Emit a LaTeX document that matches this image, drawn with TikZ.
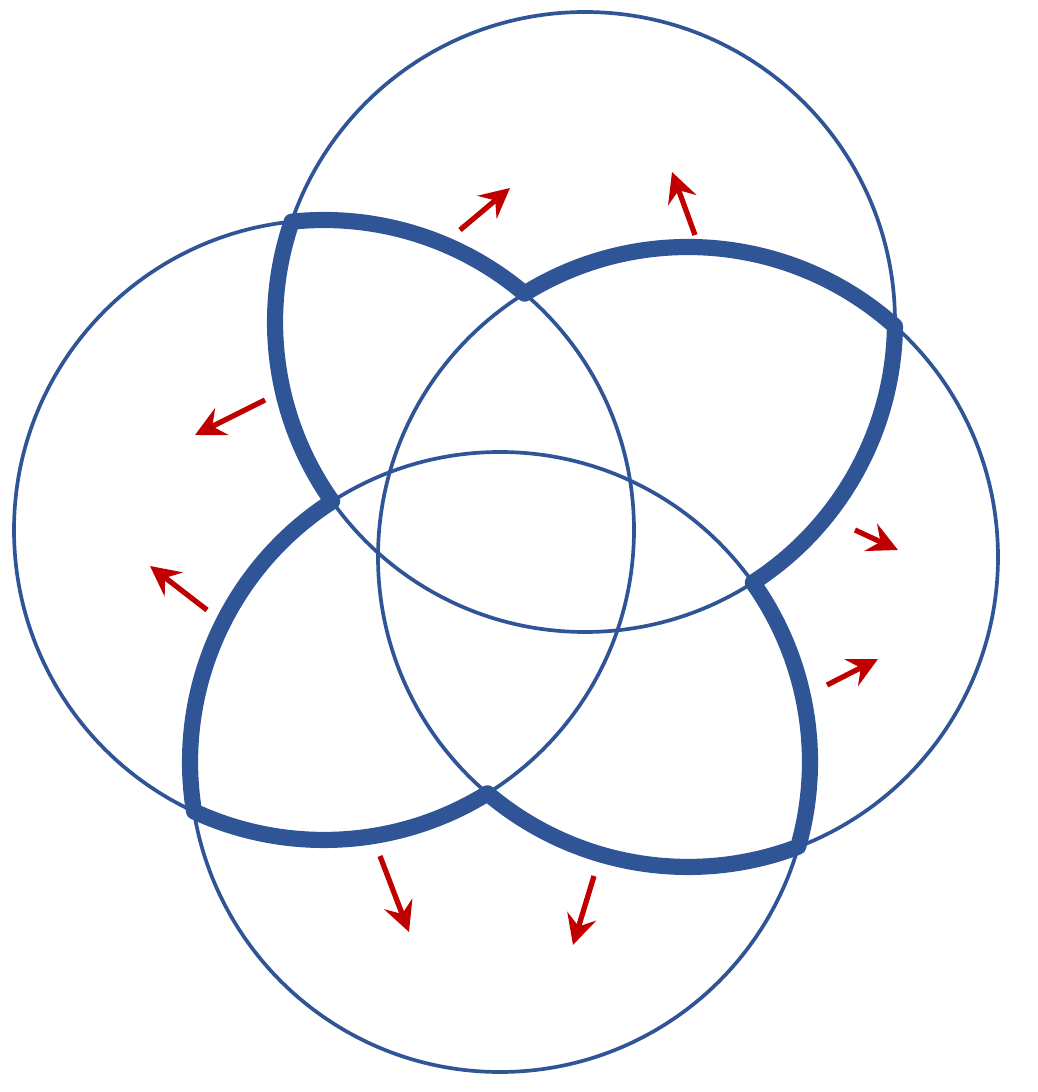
\documentclass[tikz,border=0pt]{standalone}
\usetikzlibrary{arrows.meta,calc}
\definecolor{cblue}{HTML}{2F5597}
\definecolor{cred}{HTML}{C00000}
\tikzset{
  thincircle/.style={draw=cblue, line width=1.05pt},
  thickline/.style={draw=cblue, line width=4.6pt, line join=round},
  outarrow/.style={draw=cred, line width=1.5pt, -{Stealth[length=8.5pt,width=8.5pt,inset=3pt]}}
}
\begin{document}
\begin{tikzpicture}[x=0.1mm,y=0.1mm]
\useasboundingbox (0,0) rectangle (1037,1092);
% circle centres
\coordinate (cT) at (585,770);
\coordinate (cL) at (324,562);
\coordinate (cR) at (688,535);
\coordinate (cB) at (500,330);
% thin circles
\draw[thincircle] (cT) circle[radius=310];
\draw[thincircle] (cL) circle[radius=310];
\draw[thincircle] (cR) circle[radius=310];
\draw[thincircle] (cB) circle[radius=310];
% thick boundary of the region covered by at least two circles
\draw[thickline] ($(cL)+(95.99:310)$)
  arc[start angle=95.99, end angle=49.69, radius=310]
  arc[start angle=121.83, end angle=48.12, radius=310]
  arc[start angle=-0.78, end angle=-57.22, radius=310]
  arc[start angle=35.35, end angle=-15.87, radius=310]
  arc[start angle=-69.18, end angle=-130.31, radius=310]
  arc[start angle=-58.17, end angle=-114.79, radius=310]
  arc[start angle=189.17, end angle=122.78, radius=310]
  arc[start angle=215.35, end angle=161.12, radius=310]
  -- cycle;
% red arrows
\coordinate (a1t) at (460,862); \coordinate (a1h) at (510,904);
\coordinate (a2t) at (695,857); \coordinate (a2h) at (672,920);
\coordinate (a3t) at (265,692); \coordinate (a3h) at (195,657);
\coordinate (a4t) at (207,482); \coordinate (a4h) at (150,526);
\coordinate (a5t) at (855,562); \coordinate (a5h) at (898,542);
\coordinate (a6t) at (827,407); \coordinate (a6h) at (878,433);
\coordinate (a7t) at (380,236); \coordinate (a7h) at (409,160);
\coordinate (a8t) at (594,216); \coordinate (a8h) at (573,147);
\foreach \i in {1,...,8} \draw[outarrow] (a\i t) -- (a\i h);
\end{tikzpicture}
\end{document}
